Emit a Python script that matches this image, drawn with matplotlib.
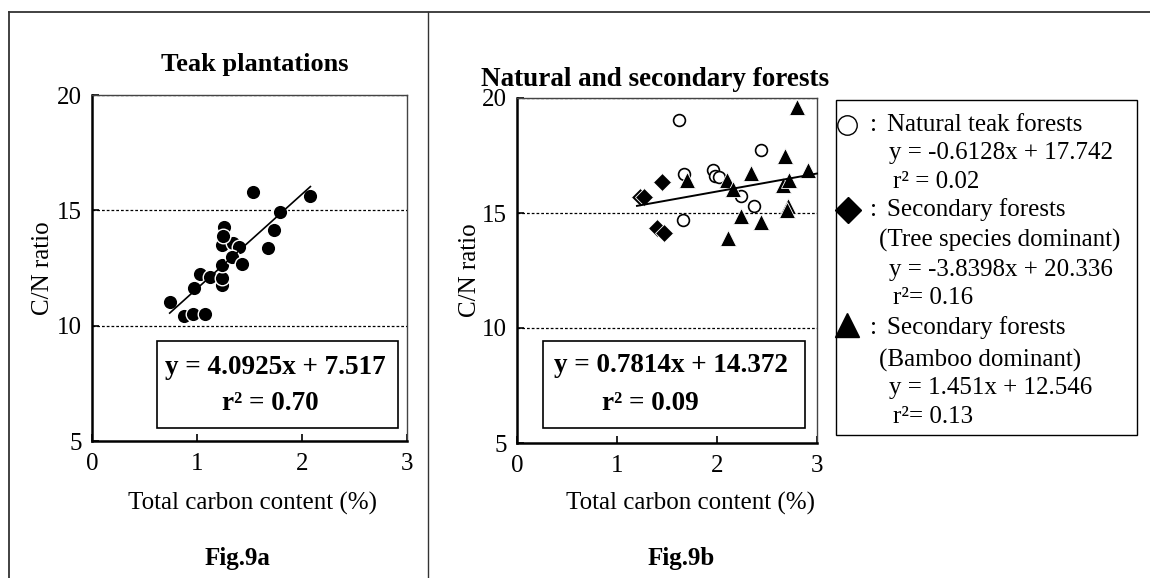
import numpy as np
import matplotlib
matplotlib.use("Agg")
import matplotlib.pyplot as plt
from matplotlib.lines import Line2D
from matplotlib.patches import Rectangle

W, H = 1150, 578
plt.rcParams['font.family'] = ['Liberation Serif', 'DejaVu Serif']
FS = 18
FSB = 19.5

# ---------------- data ----------------
# Fig.9a  Teak plantations
teak_x = [0.74, 0.88, 0.965, 1.08, 0.97, 1.03, 1.12, 1.235, 1.235, 1.235, 1.235,
          1.26, 1.345, 1.40, 1.33, 1.425, 1.535, 1.68, 1.73, 1.79, 2.08, 1.25]
teak_y = [11.04, 10.42, 10.5, 10.5, 11.62, 12.24, 12.12, 11.76, 12.05, 12.63, 13.5,
          14.27, 13.6, 13.42, 12.96, 12.67, 15.8, 13.35, 14.15, 14.92, 15.6, 13.9]
teak_slope, teak_icpt = 4.0925, 7.517

# Fig.9b  Natural and secondary forests
nat_x = [1.62, 1.673, 1.657, 1.957, 1.98, 2.02, 2.44, 2.237, 2.37]
nat_y = [19.05, 16.70, 14.69, 16.89, 16.62, 16.55, 17.76, 15.75, 15.31]

tree_x = [1.23, 1.27, 1.453, 1.397, 1.473]
tree_y = [15.69, 15.69, 16.33, 14.33, 14.11]

bamboo_x = [1.697, 2.097, 2.163, 2.113, 2.237, 2.337, 2.44, 2.68, 2.657, 2.72,
            2.713, 2.703, 2.80, 2.91]
bamboo_y = [16.42, 16.45, 16.04, 13.93, 14.87, 16.74, 14.62, 17.5, 16.23, 16.45,
            15.31, 15.15, 19.6, 16.89]
all_slope, all_icpt = 0.7814, 14.372

x_ticks = [0, 1, 2, 3]
y_ticks = [5, 10, 15, 20]
grid_y = [10, 15, 20]


def fx(x):
    return x / W


def fy(y):
    return 1 - y / H


fig = plt.figure(figsize=(W / 100, H / 100), dpi=100)
fig.patch.set_facecolor('white')


def make_axes(x0, x1, y0, y1):
    ax = fig.add_axes([fx(x0), fy(y1), (x1 - x0) / W, (y1 - y0) / H])
    ax.set_xlim(0, 3)
    ax.set_ylim(5, 20)
    ax.set_xticks(x_ticks)
    ax.set_yticks(y_ticks)
    ax.tick_params(direction='in', length=5, width=1.2, labelsize=FS,
                   color='black')
    ax.tick_params(axis='x', pad=9)
    ax.tick_params(axis='y', pad=7)
    for s in ['left', 'bottom']:
        ax.spines[s].set_linewidth(1.8)
        ax.spines[s].set_color('black')
    for s in ['top', 'right']:
        ax.spines[s].set_linewidth(1.0)
        ax.spines[s].set_color('#444444')
    for g in grid_y:
        ax.axhline(g, color='black', lw=0.9, ls=(0, (2.2, 1.6)), zorder=1)
    ax.set_facecolor('white')
    return ax


# ---- Fig 9a ----
ax1 = make_axes(92, 407, 95, 441)
ax1.scatter(teak_x, teak_y, s=110, c='black', edgecolors='white',
            linewidths=1.0, zorder=3)
lx = np.array([min(teak_x), max(teak_x)])
ax1.plot(lx, teak_slope * lx + teak_icpt, color='black', lw=1.2, zorder=4)

# ---- Fig 9b ----
ax2 = make_axes(517, 817, 98, 443)
ax2.plot(nat_x, nat_y, ls='none', marker='o', ms=8.5, mfc='white', mec='black',
         mew=1.2, zorder=3, clip_on=False)
ax2.plot(tree_x, tree_y, ls='none', marker='D', ms=8.8, mfc='black', mec='white',
         mew=0.6, zorder=3, clip_on=False)
ax2.plot(bamboo_x, bamboo_y, ls='none', marker='^', ms=11, mfc='black',
         mec='white', mew=0.6, zorder=3, clip_on=False)
allx = np.array(nat_x + tree_x + bamboo_x)
lx2 = np.array([allx.min() - 0.03, 3.0])
ax2.plot(lx2, all_slope * lx2 + all_icpt, color='black', lw=1.4, zorder=4,
         clip_on=False)

# ---- outer frame ----
fc = '#333333'
fig.add_artist(Line2D([fx(9), 1.0], [fy(12), fy(12)], transform=fig.transFigure,
                      color=fc, lw=1.3))
fig.add_artist(Line2D([fx(9), fx(9)], [fy(12), 0], transform=fig.transFigure,
                      color=fc, lw=1.3))
fig.add_artist(Line2D([fx(428), fx(428)], [fy(12), 0], transform=fig.transFigure,
                      color=fc, lw=1.0))


def ftext(x, y, s, **kw):
    kw.setdefault('fontsize', FS)
    kw.setdefault('va', 'center')
    fig.text(fx(x), fy(y), s, **kw)


# titles
ftext(255, 65, 'Teak plantations', ha='center', fontweight='bold', fontsize=19)
ftext(481, 79, 'Natural and secondary forests', ha='left', fontweight='bold',
      fontsize=19.5)

# axis labels
ftext(43, 268, 'C/N ratio', ha='center', rotation=90)
ftext(470, 270, 'C/N ratio', ha='center', rotation=90)
ftext(252, 503, 'Total carbon content (%)', ha='center')
ftext(690, 503, 'Total carbon content (%)', ha='center')
ftext(237, 558, 'Fig.9a', ha='center', fontweight='bold')
ftext(681, 558, 'Fig.9b', ha='center', fontweight='bold')


# equation boxes
def fbox(x0, y0, x1, y1, lw=1.2):
    fig.add_artist(Rectangle((fx(x0), fy(y1)), (x1 - x0) / W, (y1 - y0) / H,
                             transform=fig.transFigure, fill=True,
                             facecolor='white', edgecolor='black', lw=lw,
                             zorder=5))


fbox(157, 341, 398, 428)
ftext(165, 367, f'y = {teak_slope}x + {teak_icpt}', ha='left', fontweight='bold',
      fontsize=FSB, zorder=6)
ftext(270, 404, 'r² = 0.70', ha='center', fontweight='bold', fontsize=FSB,
      zorder=6)

fbox(543, 341, 805, 428)
ftext(554, 366, f'y = {all_slope}x + {all_icpt}', ha='left', fontweight='bold',
      fontsize=FSB, zorder=6)
ftext(602, 404, 'r² = 0.09', ha='left', fontweight='bold', fontsize=FSB,
      zorder=6)

# legend box
fbox(836, 100, 1137, 435, lw=1.0)


def fmark(x, y, **kw):
    fig.add_artist(Line2D([fx(x)], [fy(y)], transform=fig.transFigure,
                          ls='none', zorder=7, **kw))


fmark(847, 125, marker='o', ms=14, mfc='white', mec='black', mew=1.0)
fmark(848, 210, marker='D', ms=13, mfc='black', mec='black')
fmark(847, 325, marker='^', ms=17, mfc='black', mec='black')

leg_lines = [
    (873, 125, ':'), (887, 125, 'Natural teak forests'),
    (889, 153, 'y = -0.6128x + 17.742'),
    (893, 182, 'r² = 0.02'),
    (873, 210, ':'), (887, 210, 'Secondary forests'),
    (879, 240, '(Tree species dominant)'),
    (889, 270, 'y = -3.8398x + 20.336'),
    (893, 298, 'r²= 0.16'),
    (873, 328, ':'), (887, 328, 'Secondary forests'),
    (879, 360, '(Bamboo dominant)'),
    (889, 388, 'y = 1.451x + 12.546'),
    (893, 417, 'r²= 0.13'),
]
for x, y, s in leg_lines:
    if s == ':':
        ftext(x, y, s, ha='center', zorder=7)
    else:
        ftext(x, y, s, ha='left', zorder=7)

fig.savefig('out.png', dpi=100, facecolor='white')
